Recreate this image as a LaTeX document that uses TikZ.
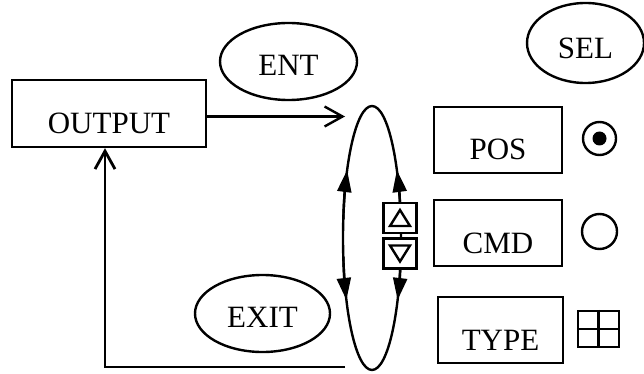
\documentclass[tikz,border=0pt]{standalone}
\usepackage{fontspec}
\setmainfont{Liberation Serif}
\usetikzlibrary{shapes.geometric,arrows.meta}
\begin{document}
\begin{tikzpicture}[x=1pt,y=1pt,
  lw/.style={line width=2.4pt},
  txt/.style={font=\fontsize{31}{36}\selectfont},
  boxnode/.style={draw,lw,rectangle,inner sep=0pt,text height=40pt,text depth=0pt,txt},
  ellnode/.style={draw,lw,ellipse,inner sep=0pt,text depth=0pt,txt},
  smallbox/.style={draw,lw,fill=white,rectangle,inner sep=0pt,minimum width=33pt,minimum height=30pt},
  barb/.style={-{Straight Barb[length=18pt,width=20pt]}},
  fillarrow/.style={-{Triangle[length=22pt,width=14pt]}}]
\useasboundingbox (0,0) rectangle (644,-374);

% left side
\node[boxnode,minimum width=194pt,minimum height=67pt] (out) at (109,-113.5) {OUTPUT};
\node[ellnode,minimum width=137pt,minimum height=77pt,text height=29pt] (ent) at (288.5,-61.5) {ENT};
\node[ellnode,minimum width=135pt,minimum height=77pt,text height=27pt] (exit) at (262.5,-313.5) {EXIT};
\node[ellnode,minimum width=117pt,minimum height=80pt,text height=32pt] (sel) at (585.5,-43) {SEL};

% cycle ellipse
\node[draw,lw,ellipse,inner sep=0pt,minimum width=58pt,minimum height=264pt] (cyc) at (372,-238) {};
\draw[lw,fillarrow] ([shift={(8:29pt and 132pt)}]cyc.center) arc[start angle=8,end angle=31,x radius=29pt,y radius=132pt];
\draw[lw,fillarrow] ([shift={(-8:29pt and 132pt)}]cyc.center) arc[start angle=-8,end angle=-28,x radius=29pt,y radius=132pt];
\draw[lw,fillarrow] ([shift={(172:29pt and 132pt)}]cyc.center) arc[start angle=172,end angle=149,x radius=29pt,y radius=132pt];
\draw[lw,fillarrow] ([shift={(188:29pt and 132pt)}]cyc.center) arc[start angle=188,end angle=208,x radius=29pt,y radius=132pt];

% up / down buttons
\node[smallbox] (up) at (400,-218) {};
\node[smallbox] (dn) at (400,-253.5) {};
\draw[lw,line join=miter] ([shift={(0,8)}]up.center) -- ([shift={(-10,-8)}]up.center) -- ([shift={(10,-8)}]up.center) -- cycle;
\draw[lw,line join=miter] ([shift={(0,-8)}]dn.center) -- ([shift={(-10,8)}]dn.center) -- ([shift={(10,8)}]dn.center) -- cycle;

% connectors
\coordinate (entin) at (345,-116.5);
\draw[lw,barb] (out.east |- entin) -- (entin);
\coordinate (fb) at (345,-367);
\draw[line width=2.8pt,barb] (fb) -| ([xshift=-4pt]out.south);

% right column
\node[boxnode,minimum width=128pt,minimum height=66pt] (pos) at (498,-140) {POS};
\node[boxnode,minimum width=128pt,minimum height=66pt] (cmd) at (498,-233) {CMD};
\node[boxnode,minimum width=125pt,minimum height=66pt] (type) at (500.5,-330) {TYPE};

\node[draw,lw,circle,minimum size=33pt,inner sep=0pt] (r1) at (599.5,-138.5) {};
\node[fill,circle,minimum size=14pt,inner sep=0pt] (r1dot) at (r1.center) {};
\node[draw,lw,circle,minimum size=35pt,inner sep=0pt] (r2) at (599.5,-231.5) {};
\node[draw,lw,rectangle,minimum width=41pt,minimum height=36pt,inner sep=0pt] (grid) at (598.5,-329) {};
\draw[lw] (grid.north) -- (grid.south);
\draw[lw] (grid.west) -- (grid.east);
\end{tikzpicture}
\end{document}
